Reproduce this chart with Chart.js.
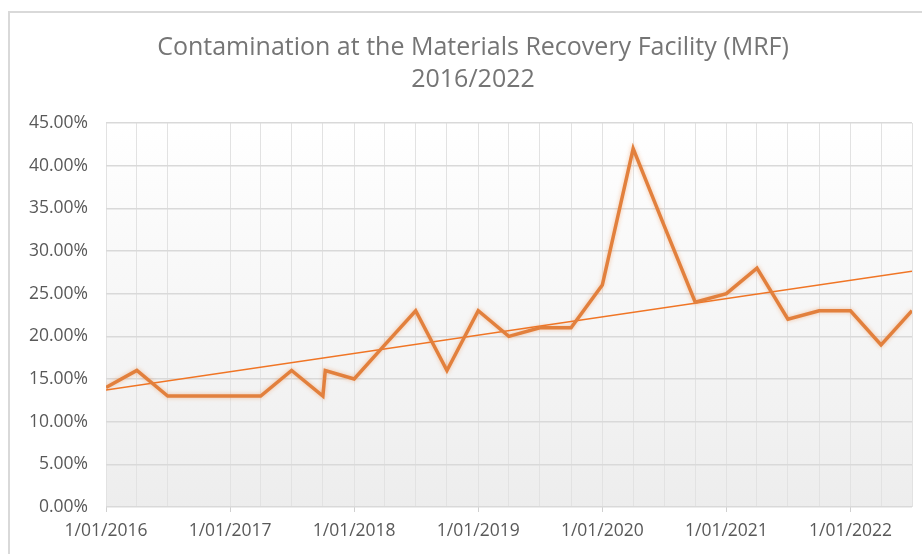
<!DOCTYPE html>
<html>
<head>
<meta charset="utf-8">
<script src="https://cdn.jsdelivr.net/npm/chart.js@4"></script>
<style>
  html, body { margin:0; padding:0; background:#fff; overflow:hidden; }
  #frame { position:absolute; left:8px; top:11px; border-left:2px solid #d9d9d9; border-top:2px solid #d9d9d9; }
  canvas { display:block; }
</style>
</head>
<body>
<div id="frame"><canvas id="mrf" width="926" height="541"></canvas></div>
<script>
// sample dates and contamination rate (%)
const sampleDates = ['2016-01-01','2016-04-01','2016-07-01','2017-01-01','2017-04-01','2017-07-01','2017-10-01','2017-10-08',
  '2018-01-01','2018-04-01','2018-07-01','2018-10-01','2019-01-01','2019-04-01','2019-07-01','2019-10-01',
  '2020-01-01','2020-04-01','2020-07-01','2020-10-01','2021-01-01','2021-04-01','2021-07-01','2021-10-01',
  '2022-01-01','2022-04-01','2022-07-01'];
const contamination = [14,16,13,13,13,16,13,16,15,19,23,16,23,20,21,21,26,42,33,24,25,28,22,23,23,19,23];
const yTicks = [0,5,10,15,20,25,30,35,40,45];
const titleLines = ['Contamination at the Materials Recovery Facility (MRF)', '2016/2022'];

const FONT = '"Open Sans", sans-serif';
const GREY = '#595959';

// date -> fractional year, so 1 Jan lands on an integer
function toYear(s) {
  const [y, m, d] = s.split('-').map(Number);
  const start = Date.UTC(y, 0, 1), end = Date.UTC(y + 1, 0, 1);
  return y + (Date.UTC(y, m - 1, d) - start) / (end - start);
}

const xs = sampleDates.map(toYear);
const points = xs.map((x, i) => ({ x, y: contamination[i] }));

// linear trendline (least squares), like Excel's
function trend(pts) {
  const n = pts.length;
  const mx = pts.reduce((a, p) => a + p.x, 0) / n;
  const my = pts.reduce((a, p) => a + p.y, 0) / n;
  let num = 0, den = 0;
  pts.forEach(p => { num += (p.x - mx) * (p.y - my); den += (p.x - mx) ** 2; });
  const b = num / den, a = my - b * mx;
  const x0 = pts[0].x, x1 = pts[n - 1].x;
  return [{ x:x0, y:a + b * x0 }, { x:x1, y:a + b * x1 }];
}

// grid ticks at every sample date (skip the near-duplicate)
const gridXs = xs.filter((x, i) => i === 0 || x - xs[i - 1] > 0.05);
const isYearStart = v => Math.abs(v - Math.round(v)) < 1e-6;

const plotBg = {
  id: 'plotBg',
  beforeDraw(chart) {
    const { ctx, chartArea:a } = chart;
    const g = ctx.createLinearGradient(0, a.top, 0, a.bottom);
    g.addColorStop(0, '#ffffff');
    g.addColorStop(1, '#ededed');
    ctx.save();
    ctx.fillStyle = g;
    ctx.fillRect(a.left, a.top, a.right - a.left, a.bottom - a.top);
    ctx.restore();
  }
};

const glow = {
  id: 'glow',
  beforeDatasetDraw(chart, args) {
    if (args.index !== 0) return;
    chart.ctx.save();
    chart.ctx.shadowColor = 'rgba(237,125,49,0.45)';
    chart.ctx.shadowBlur = 4;
  },
  afterDatasetDraw(chart, args) {
    if (args.index === 0) chart.ctx.restore();
  }
};

new Chart(document.getElementById('mrf'), {
  type: 'line',
  data: {
    datasets: [
      { data: points, borderColor:'#E2803D', borderWidth:3.5, pointRadius:0, tension:0, borderJoinStyle:'miter' },
      { data: trend(points), borderColor:'#F07525', borderWidth:1.5, pointRadius:0 }
    ]
  },
  options: {
    responsive:false,
    animation:false,
    layout: { padding:0 },
    plugins: {
      legend: { display:false },
      tooltip: { enabled:false },
      title: {
        display:true, text:titleLines, color:'#757575',
        font:{ family:FONT, size:25, weight:'normal', lineHeight:1.28 },
        padding:{ top:19, bottom:27 }
      }
    },
    scales: {
      x: {
        type:'linear',
        min: xs[0], max: xs[xs.length - 1],
        afterBuildTicks: s => { s.ticks = gridXs.map(v => ({ value:v })); },
        // chart runs past the window's right edge (cropped original), so keep the plot narrower than the title box
        afterFit: s => { s.height = 47; s.paddingRight = 24; },
        ticks: {
          autoSkip:false, maxRotation:0, color:GREY, padding:9,
          font:{ family:FONT, size:17.5 },
          callback: v => isYearStart(v) ? '1/01/' + Math.round(v) : ''
        },
        grid: {
          color:'#e2e2e2', lineWidth:1, tickLength:5,
          tickColor: c => (c.tick && isYearStart(c.tick.value)) ? '#d0d0d0' : 'rgba(0,0,0,0)'
        },
        border: { display:false }
      },
      y: {
        min:0, max:45,
        afterBuildTicks: s => { s.ticks = yTicks.map(v => ({ value:v })); },
        afterFit: s => { s.width = 96; },
        ticks: {
          color:GREY, padding:18,
          font:{ family:FONT, size:17.5 },
          callback: v => v.toFixed(2) + '%'
        },
        grid: { color:'#d9d9d9', lineWidth:1.5, drawTicks:false },
        border: { display:false }
      }
    }
  },
  plugins: [plotBg, glow]
});
</script>
</body>
</html>
